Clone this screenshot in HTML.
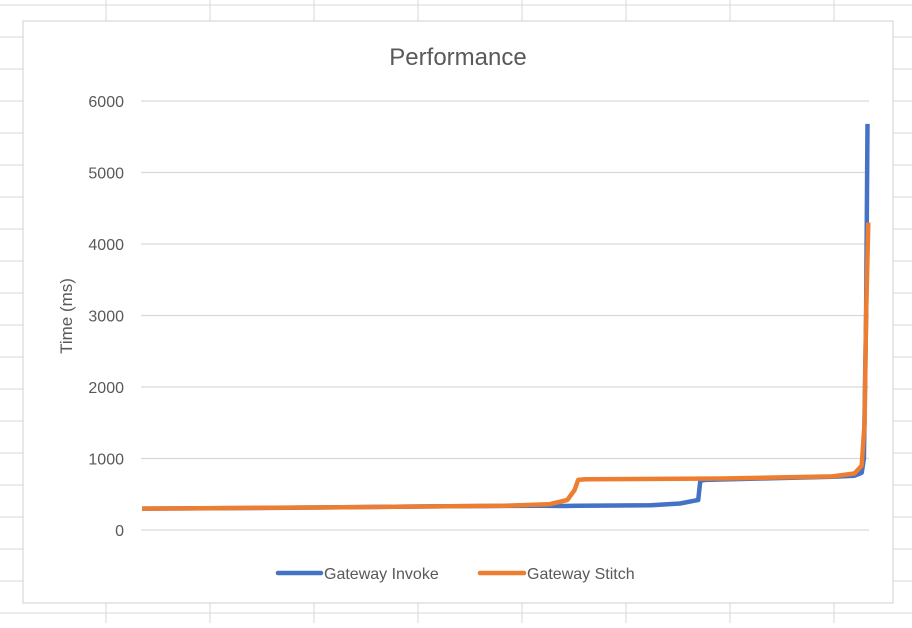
<!DOCTYPE html>
<html><head><meta charset="utf-8"><style>
html,body{margin:0;padding:0;background:#fff;}
body{width:912px;height:623px;overflow:hidden;font-family:"Liberation Sans",sans-serif;}
</style></head><body>
<svg id="c" width="912" height="623" xmlns="http://www.w3.org/2000/svg">
<g id="sheet"></g>
<rect x="23" y="21" width="870" height="582" fill="#fff" stroke="#d0d0d0" stroke-width="1"/>
<text x="458" y="65" text-anchor="middle" font-size="24" fill="#595959">Performance</text>
<g id="grid"></g>
<g id="yticks"></g>
<text transform="translate(72,316) rotate(-90)" text-anchor="middle" font-size="17" fill="#595959">Time (ms)</text>
<g id="series"></g>
<g>
<g><line x1="278" y1="573" x2="321" y2="573" stroke="#4472C4" stroke-width="4.5" stroke-linecap="round"/><text x="324" y="579" font-size="16" fill="#595959">Gateway Invoke</text></g>
<g><line x1="480" y1="573" x2="524" y2="573" stroke="#ED7D31" stroke-width="4.5" stroke-linecap="round"/><text x="527" y="579" font-size="16" fill="#595959">Gateway Stitch</text></g>
</g>
</svg>
<script>
const yTicks=[0,1000,2000,3000,4000,5000,6000];
const invokeX=[0,20,40,55,58,60,70,74,76,76.5,76.8,77.5,85,95,98,99,99.3,99.6,99.8];
const invokeY=[300,310,330,340,335,340,345,370,410,420,690,700,720,745,760,800,1000,3000,5680];
const stitchX=[0,30,50,56,58.5,59.5,60,61,80,95,98,99,99.4,99.6,99.9];
const stitchY=[300,320,340,360,420,560,700,710,720,750,790,900,1500,3000,4300];
const NS='http://www.w3.org/2000/svg';
const x0=142,x1=869,yBase=530,yTop=101;
const sx=v=>x0+(x1-x0)*v/100;
const sy=v=>yBase-(yBase-yTop)*v/6000;
function mk(tag,attrs,parent){const e=document.createElementNS(NS,tag);for(const k in attrs)e.setAttribute(k,attrs[k]);parent.appendChild(e);return e;}
const sheet=document.getElementById('sheet');
for(let y=5;y<623;y+=32){const l=mk('line',{x1:0,x2:912,y1:y,y2:y,stroke:'#d9d9d9','stroke-width':1},sheet);

}
[106,210,314,418,522,626,730,834].forEach(x=>{const l=mk('line',{x1:x,x2:x,y1:0,y2:623,stroke:'#d9d9d9','stroke-width':1},sheet);

});
const grid=document.getElementById('grid'),yt=document.getElementById('yticks');
yTicks.forEach(t=>{const l=mk('line',{x1:141,x2:869,y1:sy(t),y2:sy(t),stroke:'#d9d9d9','stroke-width':1.3},grid);


const tx=mk('text',{x:124,y:sy(t)+6,'text-anchor':'end','font-size':16,fill:'#595959'},yt);
tx.textContent=t;

});
const ser=document.getElementById('series');
function draw(xs,ys,col,name){const d=xs.map((x,i)=>(i?'L':'M')+sx(x).toFixed(1)+','+sy(ys[i]).toFixed(1)).join(' ');
const p=mk('path',{d:d,fill:'none',stroke:col,'stroke-width':4.5,'stroke-linejoin':'round'},ser);

}
draw(invokeX,invokeY,'#4472C4','line-gateway-invoke');
draw(stitchX,stitchY,'#ED7D31','line-gateway-stitch');
</script>
</body></html>
